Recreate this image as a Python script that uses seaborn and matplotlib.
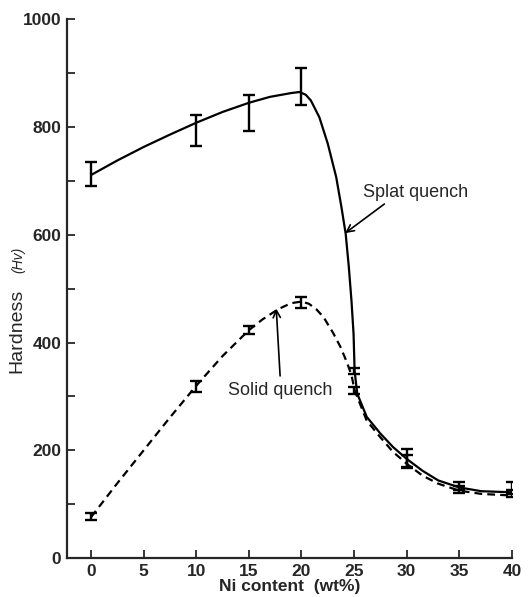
import numpy as np
import pandas as pd
import matplotlib
matplotlib.use("Agg")
import matplotlib.pyplot as plt
import seaborn as sns

# measured points (Ni wt%, hardness Hv) with error bar limits
ni = [0, 10, 15, 20, 25, 30, 35, 40]
splat_hv = [711, 808, 844, 864, 347, 186, 135, 126]
splat_lo = [690, 765, 793, 840, 341, 169, 126, 118]
splat_hi = [735, 822, 859, 910, 353, 203, 142, 142]
solid_hv = [76, 318, 423, 476, 311, 178, 127, 120]
solid_lo = [70, 308, 415, 464, 305, 168, 120, 114]
solid_hi = [84, 329, 431, 485, 318, 192, 134, 127]

# smooth curves
splat_curve_x = [0, 2.5, 5, 7.5, 10, 12.5, 15, 17, 19, 19.8, 20.4, 20.9, 21.7, 22.5,
                 23.3, 23.8, 24.2, 24.5, 24.75, 24.95, 25.05, 25.3, 26.2, 27.5, 28.7,
                 30, 31.5, 33, 35, 37.1, 40]
splat_curve_y = [711, 738, 763, 786, 808, 828, 845, 856, 863, 865, 860, 849, 818, 769,
                 707, 651, 602, 540, 478, 416, 347, 305, 262, 231, 206,
                 184, 162, 144, 131, 124, 122]
solid_curve_x = [0, 2.5, 5, 7.5, 10, 12.5, 15, 16.3, 17.8, 19.0, 20.0, 20.7, 21.4,
                 22.1, 23.0, 23.7, 24.3, 24.75, 25.05, 25.3, 26.2, 27.5,
                 28.7, 30, 31.5, 33, 35, 37.1, 40]
solid_curve_y = [76, 139, 200, 261, 320, 375, 423, 443, 462, 473, 476, 472, 462,
                 447, 418, 392, 364, 340, 311, 299, 255, 224,
                 197, 175, 153, 138, 125, 119, 116]

sns.set_style("ticks")
plt.rcParams['font.family'] = ['Liberation Sans', 'DejaVu Sans']

fig = plt.figure(figsize=(5.31, 5.97), dpi=100)
ax = fig.add_axes([0.126, 0.0653, 0.838, 0.9024])

splat_df = pd.DataFrame({'x': splat_curve_x, 'y': splat_curve_y})
solid_df = pd.DataFrame({'x': solid_curve_x, 'y': solid_curve_y})
sns.lineplot(data=splat_df, x='x', y='y', ax=ax, color='black', lw=1.6, sort=False)
sns.lineplot(data=solid_df, x='x', y='y', ax=ax, color='black', lw=1.6, sort=False,
             linestyle=(0, (3.5, 2.3)))

for hv, lo, hi in [(splat_hv, splat_lo, splat_hi), (solid_hv, solid_lo, solid_hi)]:
    hv = np.array(hv)
    yerr = [hv - np.array(lo), np.array(hi) - hv]
    ax.errorbar(ni, hv, yerr=yerr, fmt='none', ecolor='black', elinewidth=1.7,
                capsize=4.5, capthick=1.7)

ax.set_xlim(-2.3, 40)
ax.set_ylim(0, 1000)
ax.set_xticks(range(0, 41, 5))
ax.set_yticks(range(0, 1001, 200))
ax.set_yticks(range(100, 1000, 200), minor=True)
ax.tick_params(axis='both', which='both', direction='in', length=6, width=1.3,
               labelsize=12.5, pad=4)
for lab in ax.get_xticklabels() + ax.get_yticklabels():
    lab.set_fontweight('bold')
sns.despine(ax=ax)
ax.spines['left'].set_linewidth(1.6)
ax.spines['bottom'].set_linewidth(1.6)

ax.set_xlabel('Ni content  (wt%)', fontsize=12.5, fontweight='bold', labelpad=0)
ax.set_ylabel('')
fig.text(0.032, 0.445, 'Hardness', rotation=90, fontsize=14, ha='center', va='center')
fig.text(0.034, 0.565, '(Hv)', rotation=90, fontsize=10, style='italic',
         ha='center', va='center')

ax.annotate('Splat quench', xy=(24.15, 603), xytext=(25.8, 679), fontsize=13,
            ha='left', va='center',
            arrowprops=dict(arrowstyle='->', color='black', lw=1.2,
                            shrinkA=0, shrinkB=0, relpos=(0.25, 0)))
ax.annotate('Solid quench', xy=(17.6, 463), xytext=(18.0, 311), fontsize=13,
            ha='center', va='center',
            arrowprops=dict(arrowstyle='->', color='black', lw=1.2,
                            shrinkA=2, shrinkB=0, relpos=(0.5, 1)))

fig.savefig('out.png', dpi=100)
